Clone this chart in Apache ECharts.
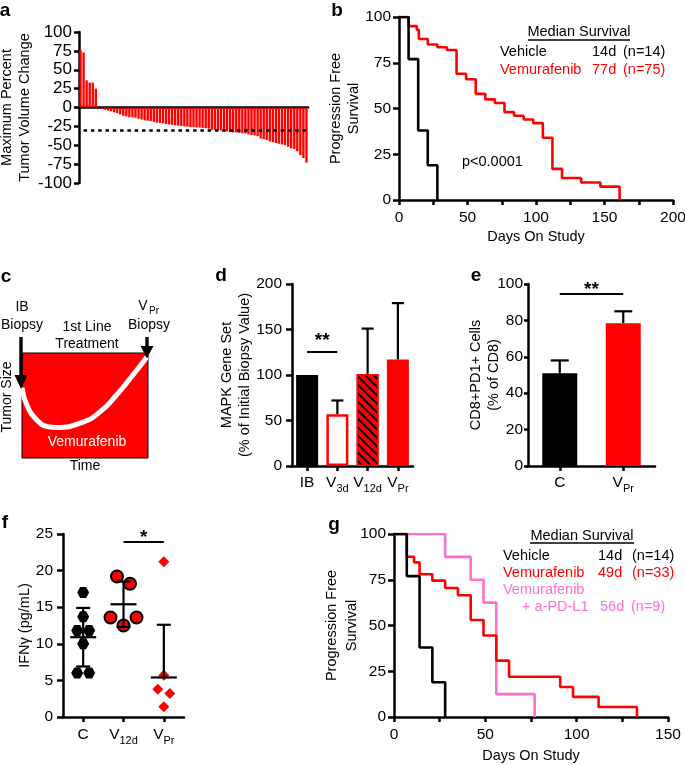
<!DOCTYPE html>
<html>
<head>
<meta charset="utf-8">
<script src="https://cdn.jsdelivr.net/npm/echarts@6/dist/echarts.min.js"></script>
<style>
  html, body { margin: 0; padding: 0; background: #fff; }
  #main { width: 685px; height: 765px; }
</style>
</head>
<body>
<div id="main"></div>
<script>
  const FONT = '"Liberation Sans", Arial, Helvetica, sans-serif'
  const RED = '#ff0000'
  const PINK = '#ff6fcf'
  const BLACK = '#000000'

  // a - best response waterfall, one bar per patient
  const aValues = [76, 73, 36, 33, 33, 25,
    -1, -2, -3, -4, -5, -6.5, -7.5, -9, -11, -12, -13, -13, -13.5, -15, -16,
    -17, -17.5, -18, -19, -20, -20.5, -21, -22, -22.5, -23, -23.5, -24, -24.5, -25, -25.5,
    -26, -26, -26.5, -26.5, -27, -27.5, -28, -29.5, -30, -30, -30.5, -31, -31.5, -32.5, -33,
    -33, -33.5, -34, -34.5, -35.5, -36.5, -37, -38, -41, -42, -43, -45, -46, -47, -48,
    -49, -50, -52, -54, -55, -58, -63, -67, -73]
  const aCats = aValues.map((v, i) => 'P' + (i + 1))
  const aThreshold = -30
  const aYTicks = [-100, -75, -50, -25, 0, 25, 50, 75, 100]

  // b - progression free survival
  const bYTicks = [0, 25, 50, 75, 100]
  const bXTicks = [0, 50, 100, 150, 200]
  const bVehicle = [[0, 100], [7, 77], [14, 38], [21, 19], [28, 0]]
  const bVemurafenib = [[0, 100], [7, 95], [13, 93], [14.5, 88], [21, 85], [28, 83.5], [35, 82], [42, 69],
    [49, 66], [56, 58], [63, 55], [70, 53], [77, 48], [84, 46], [91, 44], [98, 42], [105, 34],
    [112, 17], [119, 12], [133, 9.6], [147, 7.3], [161, 0]]

  // c - schematic tumour course
  const cCurve = [[0, 67], [4, 50], [12, 36], [20, 30], [28, 29], [48, 34], [62, 44], [75, 60], [88, 79], [99, 96]]

  // d - MAPK gene set
  const dCats = ['IB', 'V3d', 'V12d', 'VPr']
  const dMean = [100, 57, 101, 117]
  const dUpper = [100, 72, 151, 179]
  const dYTicks = [0, 50, 100, 150, 200]
  const dSig = ['IB', 'V3d', 126, '**']

  // e - CD8+PD1+ cells
  const eCats = ['C', 'VPr']
  const eMean = [51, 78.5]
  const eUpper = [58, 85]
  const eYTicks = [0, 20, 40, 60, 80, 100]
  const eSig = ['C', 'VPr', 94.5, '**']

  // f - IFNg
  const fCats = ['C', 'V12d', 'VPr']
  const fC = [17, 13.7, 11.8, 11.8, 10, 6, 6]
  const fV12d = [19.2, 18.2, 13.6, 12.5, 13.6]
  const fVPr = [21.2, 5.7, 3.8, 3.2, 1.4]
  const fMean = [10.9, 15.4, 5.4]
  const fLow = [6.9, 12.3, 5.4]
  const fHigh = [14.9, 18.5, 12.6]
  const fYTicks = [0, 5, 10, 15, 20, 25]
  const fSig = ['V12d', 'VPr', 24, '*']

  // g - PFS with anti-PD-L1
  const gXTicks = [0, 50, 100, 150]
  const gYTicks = [0, 25, 50, 75, 100]
  const gVehicle = [[0, 100], [7, 77], [14, 38], [21, 19], [28, 0]]
  const gVemurafenib = [[0, 100], [7, 87.6], [11, 84.5], [14, 78], [21, 74.5], [28, 70.5], [35, 66.5],
    [42, 53], [49, 44.5], [56, 30.8], [63, 22], [91, 16.4], [98, 11], [112, 5.5], [133, 0]]
  const gCombo = [[0, 100], [28, 87.5], [42, 75], [49, 62.5], [56, 12.5], [77, 0]]

  const G = {
    a: {left: 79, top: 32, width: 229, height: 151},
    b: {left: 399, top: 17, width: 274, height: 183},
    c: {left: 22, top: 353, width: 126, height: 105},
    d: {left: 292, top: 284, width: 121, height: 182},
    e: {left: 528, top: 284, width: 127, height: 182},
    f: {left: 63, top: 534, width: 121, height: 183},
    g: {left: 394, top: 534, width: 274, height: 183}
  }

  const axLine = {show: true, onZero: true, lineStyle: {color: BLACK, width: 2.5}}
  const axTick = len => ({show: true, length: len, lineStyle: {color: BLACK, width: 2.5}})
  const subRich = {
    m: {fontSize: 15.5, lineHeight: 24, color: BLACK, fontFamily: FONT},
    s: {fontSize: 11, padding: [11, 0, 0, 0], color: BLACK, fontFamily: FONT}
  }
  function subLabel(v) {
    if (v.length > 1 && v[0] === 'V') return '{m|V}{s|' + v.slice(1) + '}'
    return '{m|' + v + '}'
  }

  function yValue(gi, ticks, name, gap, o) {
    o = o || {}
    return {
      type: 'value', gridIndex: gi,
      min: ticks[0], max: ticks[ticks.length - 1], interval: ticks[1] - ticks[0],
      axisLine: axLine, axisTick: axTick(o.tick || 6), splitLine: {show: false},
      axisLabel: {color: BLACK, fontSize: o.size || 15.5, margin: o.margin || 8, fontFamily: FONT},
      name: name, nameLocation: 'middle', nameRotate: 90, nameGap: gap, nameMoveOverlap: false,
      nameTextStyle: {color: BLACK, fontSize: 14.5, lineHeight: o.lh || 18, fontFamily: FONT}
    }
  }
  function xValue(gi, ticks, step, name, gap) {
    return {
      type: 'value', gridIndex: gi,
      min: ticks[0], max: ticks[ticks.length - 1], interval: step,
      axisLine: axLine, axisTick: axTick(5), splitLine: {show: false},
      axisLabel: {
        color: BLACK, fontSize: 15.5, margin: 10, fontFamily: FONT,
        formatter: v => ticks.indexOf(v) >= 0 ? String(v) : ''
      },
      name: name, nameLocation: 'middle', nameGap: gap, nameMoveOverlap: false,
      nameTextStyle: {color: BLACK, fontSize: 14.5, fontFamily: FONT}
    }
  }
  function xCat(gi, cats, margin) {
    return {
      type: 'category', gridIndex: gi, data: cats,
      axisLine: axLine, axisTick: Object.assign(axTick(5), {alignWithLabel: true}),
      axisLabel: {margin: margin, formatter: subLabel, rich: subRich, interval: 0},
      splitLine: {show: false}
    }
  }
  const hidden = gi => ({type: 'value', gridIndex: gi, min: 0, max: 100, show: false})

  function errorBars(capW, meanW) {
    return function (params, api) {
      const x = api.value(0), lo = api.value(1), hi = api.value(2), m = api.value(3)
      if (hi === lo && !meanW) return null
      const pLo = api.coord([x, lo]), pHi = api.coord([x, hi]), pM = api.coord([x, m])
      const st = {stroke: BLACK, lineWidth: 2.2}
      const kids = [
        {type: 'line', shape: {x1: pLo[0], y1: pLo[1], x2: pHi[0], y2: pHi[1]}, style: st},
        {type: 'line', shape: {x1: pHi[0] - capW / 2, y1: pHi[1], x2: pHi[0] + capW / 2, y2: pHi[1]}, style: st}
      ]
      if (meanW) {
        if (lo !== m) kids.push({type: 'line', shape: {x1: pLo[0] - capW / 2, y1: pLo[1], x2: pLo[0] + capW / 2, y2: pLo[1]}, style: st})
        kids.push({type: 'line', shape: {x1: pM[0] - meanW / 2, y1: pM[1], x2: pM[0] + meanW / 2, y2: pM[1]}, style: st})
      }
      return {type: 'group', children: kids}
    }
  }

  function sigLine(sig, dist) {
    return {
      silent: true, symbol: ['none', 'none'], animation: false,
      lineStyle: {color: BLACK, width: 2, type: 'solid'},
      label: {show: true, position: 'insideMiddleTop', formatter: sig[3], color: BLACK,
        fontSize: 19, fontWeight: 'bold', distance: dist, fontFamily: FONT},
      data: [[{coord: [sig[0], sig[2]]}, {coord: [sig[1], sig[2]]}]]
    }
  }

  // spread overlapping points sideways, like a prism scatter
  function swarm(vals, sizePx, pxPerUnit) {
    const order = vals.map((v, i) => i).sort((p, q) => vals[p] - vals[q])
    const offs = vals.map(() => 0)
    let cluster = [order[0]]
    const flush = () => {
      const members = cluster.slice().sort((p, q) => p - q)
      members.forEach((idx, k) => { offs[idx] = (k - (members.length - 1) / 2) * (sizePx + 1) })
    }
    for (let k = 1; k < order.length; k++) {
      if ((vals[order[k]] - vals[order[k - 1]]) * pxPerUnit < sizePx) cluster.push(order[k])
      else { flush(); cluster = [order[k]] }
    }
    flush()
    return offs
  }
  const fPx = G.f.height / (fYTicks[fYTicks.length - 1] - fYTicks[0])
  function fPoints(vals, catIdx, size) {
    const offs = swarm(vals, size, fPx)
    return vals.map((v, i) => ({value: [catIdx, v], symbolOffset: [offs[i], 0]}))
  }
  const HEX = 'path://M-1,0 L-0.5,-0.87 L0.5,-0.87 L1,0 L0.5,0.87 L-0.5,0.87 Z'

  const kmLine = (gi, data, color, z) => ({
    type: 'line', xAxisIndex: gi, yAxisIndex: gi, data: data, step: 'end', symbol: 'none', z: z,
    lineStyle: {color: color, width: 2.6}
  })

  const dStyle = [
    {color: BLACK},
    {color: '#ffffff', borderColor: RED, borderWidth: 2.5},
    {color: RED, borderColor: RED, borderWidth: 1.5,
      decal: {symbol: 'rect', symbolSize: 1, color: BLACK, dashArrayX: [1, 0], dashArrayY: [2, 3.5], rotation: Math.PI / 4}},
    {color: RED}
  ]
  const eStyle = [{color: BLACK}, {color: RED}]

  // annotation helpers
  function txt(x, y, text, o) {
    o = o || {}
    const align = o.align || 'left'
    return {
      type: 'text', x: x, y: y, rotation: o.rotation || 0, silent: true, z: 100,
      style: {
        text: text, fill: o.color || BLACK,
        font: (o.weight || 'normal') + ' ' + (o.size || 14.5) + 'px ' + FONT,
        align: align, textAlign: align, verticalAlign: 'middle', textVerticalAlign: 'middle'
      }
    }
  }
  const panel = (x, y, t) => txt(x, y, t, {align: 'center', weight: 'bold', size: 19})
  const rule = (x1, x2, y, w) => ({type: 'line', silent: true, z: 100,
    shape: {x1: x1, y1: y, x2: x2, y2: y}, style: {stroke: BLACK, lineWidth: w || 1.5}})
  const arrow = (x, yTop, yHead, yTip) => ([
    {type: 'rect', silent: true, z: 100, shape: {x: x - 1.7, y: yTop, width: 3.4, height: yHead - yTop + 1}, style: {fill: BLACK}},
    {type: 'polygon', silent: true, z: 100, shape: {points: [[x - 6.5, yHead], [x + 6.5, yHead], [x, yTip]]}, style: {fill: BLACK}}
  ])

  const graphic = [
    panel(5, 11, 'a'), panel(337, 11, 'b'), panel(6, 277, 'c'), panel(221, 276, 'd'),
    panel(476, 276, 'e'), panel(5, 523, 'f'), panel(334, 525, 'g'),
    // b legend
    txt(579, 32, 'Median Survival', {align: 'center'}), rule(528, 630, 40),
    txt(500, 52, 'Vehicle'), txt(592, 52, '14d'), txt(623, 52, '(n=14)'),
    txt(500, 70, 'Vemurafenib', {color: RED}), txt(592, 70, '77d', {color: RED}), txt(623, 70, '(n=75)', {color: RED}),
    txt(462, 162, 'p<0.0001'),
    // g legend
    txt(582, 536, 'Median Survival', {align: 'center'}), rule(530, 634, 543),
    txt(503, 556, 'Vehicle'), txt(598, 556, '14d'), txt(632, 556, '(n=14)'),
    txt(503, 573, 'Vemurafenib', {color: RED}), txt(598, 573, '49d', {color: RED}), txt(632, 573, '(n=33)', {color: RED}),
    txt(503, 590, 'Vemurafenib', {color: PINK}),
    txt(522, 607, '+ a-PD-L1', {color: PINK}), txt(600, 607, '56d', {color: PINK}), txt(631, 607, '(n=9)', {color: PINK}),
    // c schematic labels
    txt(22, 307, 'IB', {align: 'center', size: 14}),
    txt(22, 325, 'Biopsy', {align: 'center', size: 14}),
    txt(87, 327, '1st Line', {align: 'center', size: 14}),
    txt(87, 344, 'Treatment', {align: 'center', size: 14}),
    txt(143, 306, 'V', {align: 'center', size: 14}),
    txt(154, 311, 'Pr', {align: 'center', size: 10}),
    txt(149, 325, 'Biopsy', {align: 'center', size: 14}),
    txt(87, 442, 'Vemurafenib', {align: 'center', size: 14, color: '#ffffff'}),
    txt(85, 466, 'Time', {align: 'center', size: 14}),
    txt(7, 397, 'Tumor Size', {align: 'center', size: 14, rotation: Math.PI / 2})
  ].concat(arrow(21, 337, 375, 389), arrow(147, 337, 346, 358))

  const option = {
    animation: false,
    backgroundColor: '#ffffff',
    textStyle: {fontFamily: FONT},
    grid: ['a', 'b', 'c', 'd', 'e', 'f', 'g'].map(k => Object.assign({
      containLabel: false, outerBoundsMode: 'none'
    }, G[k], k === 'c' ? {show: true, backgroundColor: RED, borderColor: BLACK, borderWidth: 1} : {})),
    xAxis: [
      {type: 'category', gridIndex: 0, data: aCats, axisLine: axLine, axisTick: {show: false}, axisLabel: {show: false}},
      xValue(1, bXTicks, 25, 'Days On Study', 29),
      hidden(2),
      xCat(3, dCats, 5),
      xCat(4, eCats, 5),
      xCat(5, fCats, 6),
      xValue(6, gXTicks, 25, 'Days On Study', 31)
    ],
    yAxis: [
      yValue(0, aYTicks, 'Maximum Percent\nTumor Volume Change', 45, {size: 17, margin: 7, tick: 5}),
      yValue(1, bYTicks, 'Progression Free\nSurvival', 36),
      hidden(2),
      yValue(3, dYTicks, 'MAPK Gene Set\n(% of Initial Biopsy Value)', 38, {margin: 10}),
      yValue(4, eYTicks, 'CD8+PD1+ Cells\n(% of CD8)', 25, {margin: 5, tick: 4}),
      yValue(5, fYTicks, 'IFN\u03b3 (pg/mL)', 29, {margin: 10}),
      yValue(6, gYTicks, 'Progression Free\nSurvival', 32, {lh: 20})
    ],
    graphic: graphic,
    series: [
      {
        type: 'bar', xAxisIndex: 0, yAxisIndex: 0, data: aValues, barCategoryGap: '22%',
        itemStyle: {color: RED},
        markLine: {
          silent: true, symbol: ['none', 'none'], label: {show: false},
          lineStyle: {color: BLACK, width: 2.5, type: [3.5, 3.8]},
          data: [[{coord: [aCats[1], aThreshold]}, {coord: [aCats[aCats.length - 1], aThreshold]}]]
        }
      },
      kmLine(1, bVemurafenib, RED, 2),
      kmLine(1, bVehicle, BLACK, 3),
      {
        type: 'line', xAxisIndex: 2, yAxisIndex: 2, data: cCurve, smooth: 0.5, symbol: 'none',
        lineStyle: {color: '#ffffff', width: 5}
      },
      {
        type: 'bar', xAxisIndex: 3, yAxisIndex: 3, barWidth: 22, z: 3,
        data: dMean.map((v, i) => ({value: v, itemStyle: dStyle[i]})),
        markLine: sigLine(dSig, 1)
      },
      {
        type: 'custom', xAxisIndex: 3, yAxisIndex: 3, z: 2,
        renderItem: errorBars(12, 0),
        data: dMean.map((v, i) => [i, v, dUpper[i], v])
      },
      {
        type: 'bar', xAxisIndex: 4, yAxisIndex: 4, barWidth: 35, z: 3,
        data: eMean.map((v, i) => ({value: v, itemStyle: eStyle[i]})),
        markLine: sigLine(eSig, -5)
      },
      {
        type: 'custom', xAxisIndex: 4, yAxisIndex: 4, z: 2,
        renderItem: errorBars(18, 0),
        data: eMean.map((v, i) => [i, v, eUpper[i], v])
      },
      {
        type: 'scatter', xAxisIndex: 5, yAxisIndex: 5, symbol: HEX, symbolSize: [12, 11], z: 2,
        itemStyle: {color: BLACK, opacity: 1}, data: fPoints(fC, 0, 11)
      },
      {
        type: 'scatter', xAxisIndex: 5, yAxisIndex: 5, symbol: 'circle', symbolSize: 12, z: 2,
        itemStyle: {color: RED, borderColor: BLACK, borderWidth: 2, opacity: 1}, data: fPoints(fV12d, 1, 12)
      },
      {
        type: 'scatter', xAxisIndex: 5, yAxisIndex: 5, symbol: 'diamond', symbolSize: 11, z: 2,
        itemStyle: {color: RED, opacity: 1}, data: fPoints(fVPr, 2, 11),
        markLine: sigLine(fSig, -6)
      },
      {
        type: 'custom', xAxisIndex: 5, yAxisIndex: 5, z: 4,
        renderItem: errorBars(14, 26),
        data: fMean.map((v, i) => [i, fLow[i], fHigh[i], v])
      },
      kmLine(6, gCombo, PINK, 2),
      kmLine(6, gVemurafenib, RED, 3),
      kmLine(6, gVehicle, BLACK, 4)
    ]
  }

  const chart = echarts.init(document.getElementById('main'))
  chart.setOption(option)
</script>
</body>
</html>
